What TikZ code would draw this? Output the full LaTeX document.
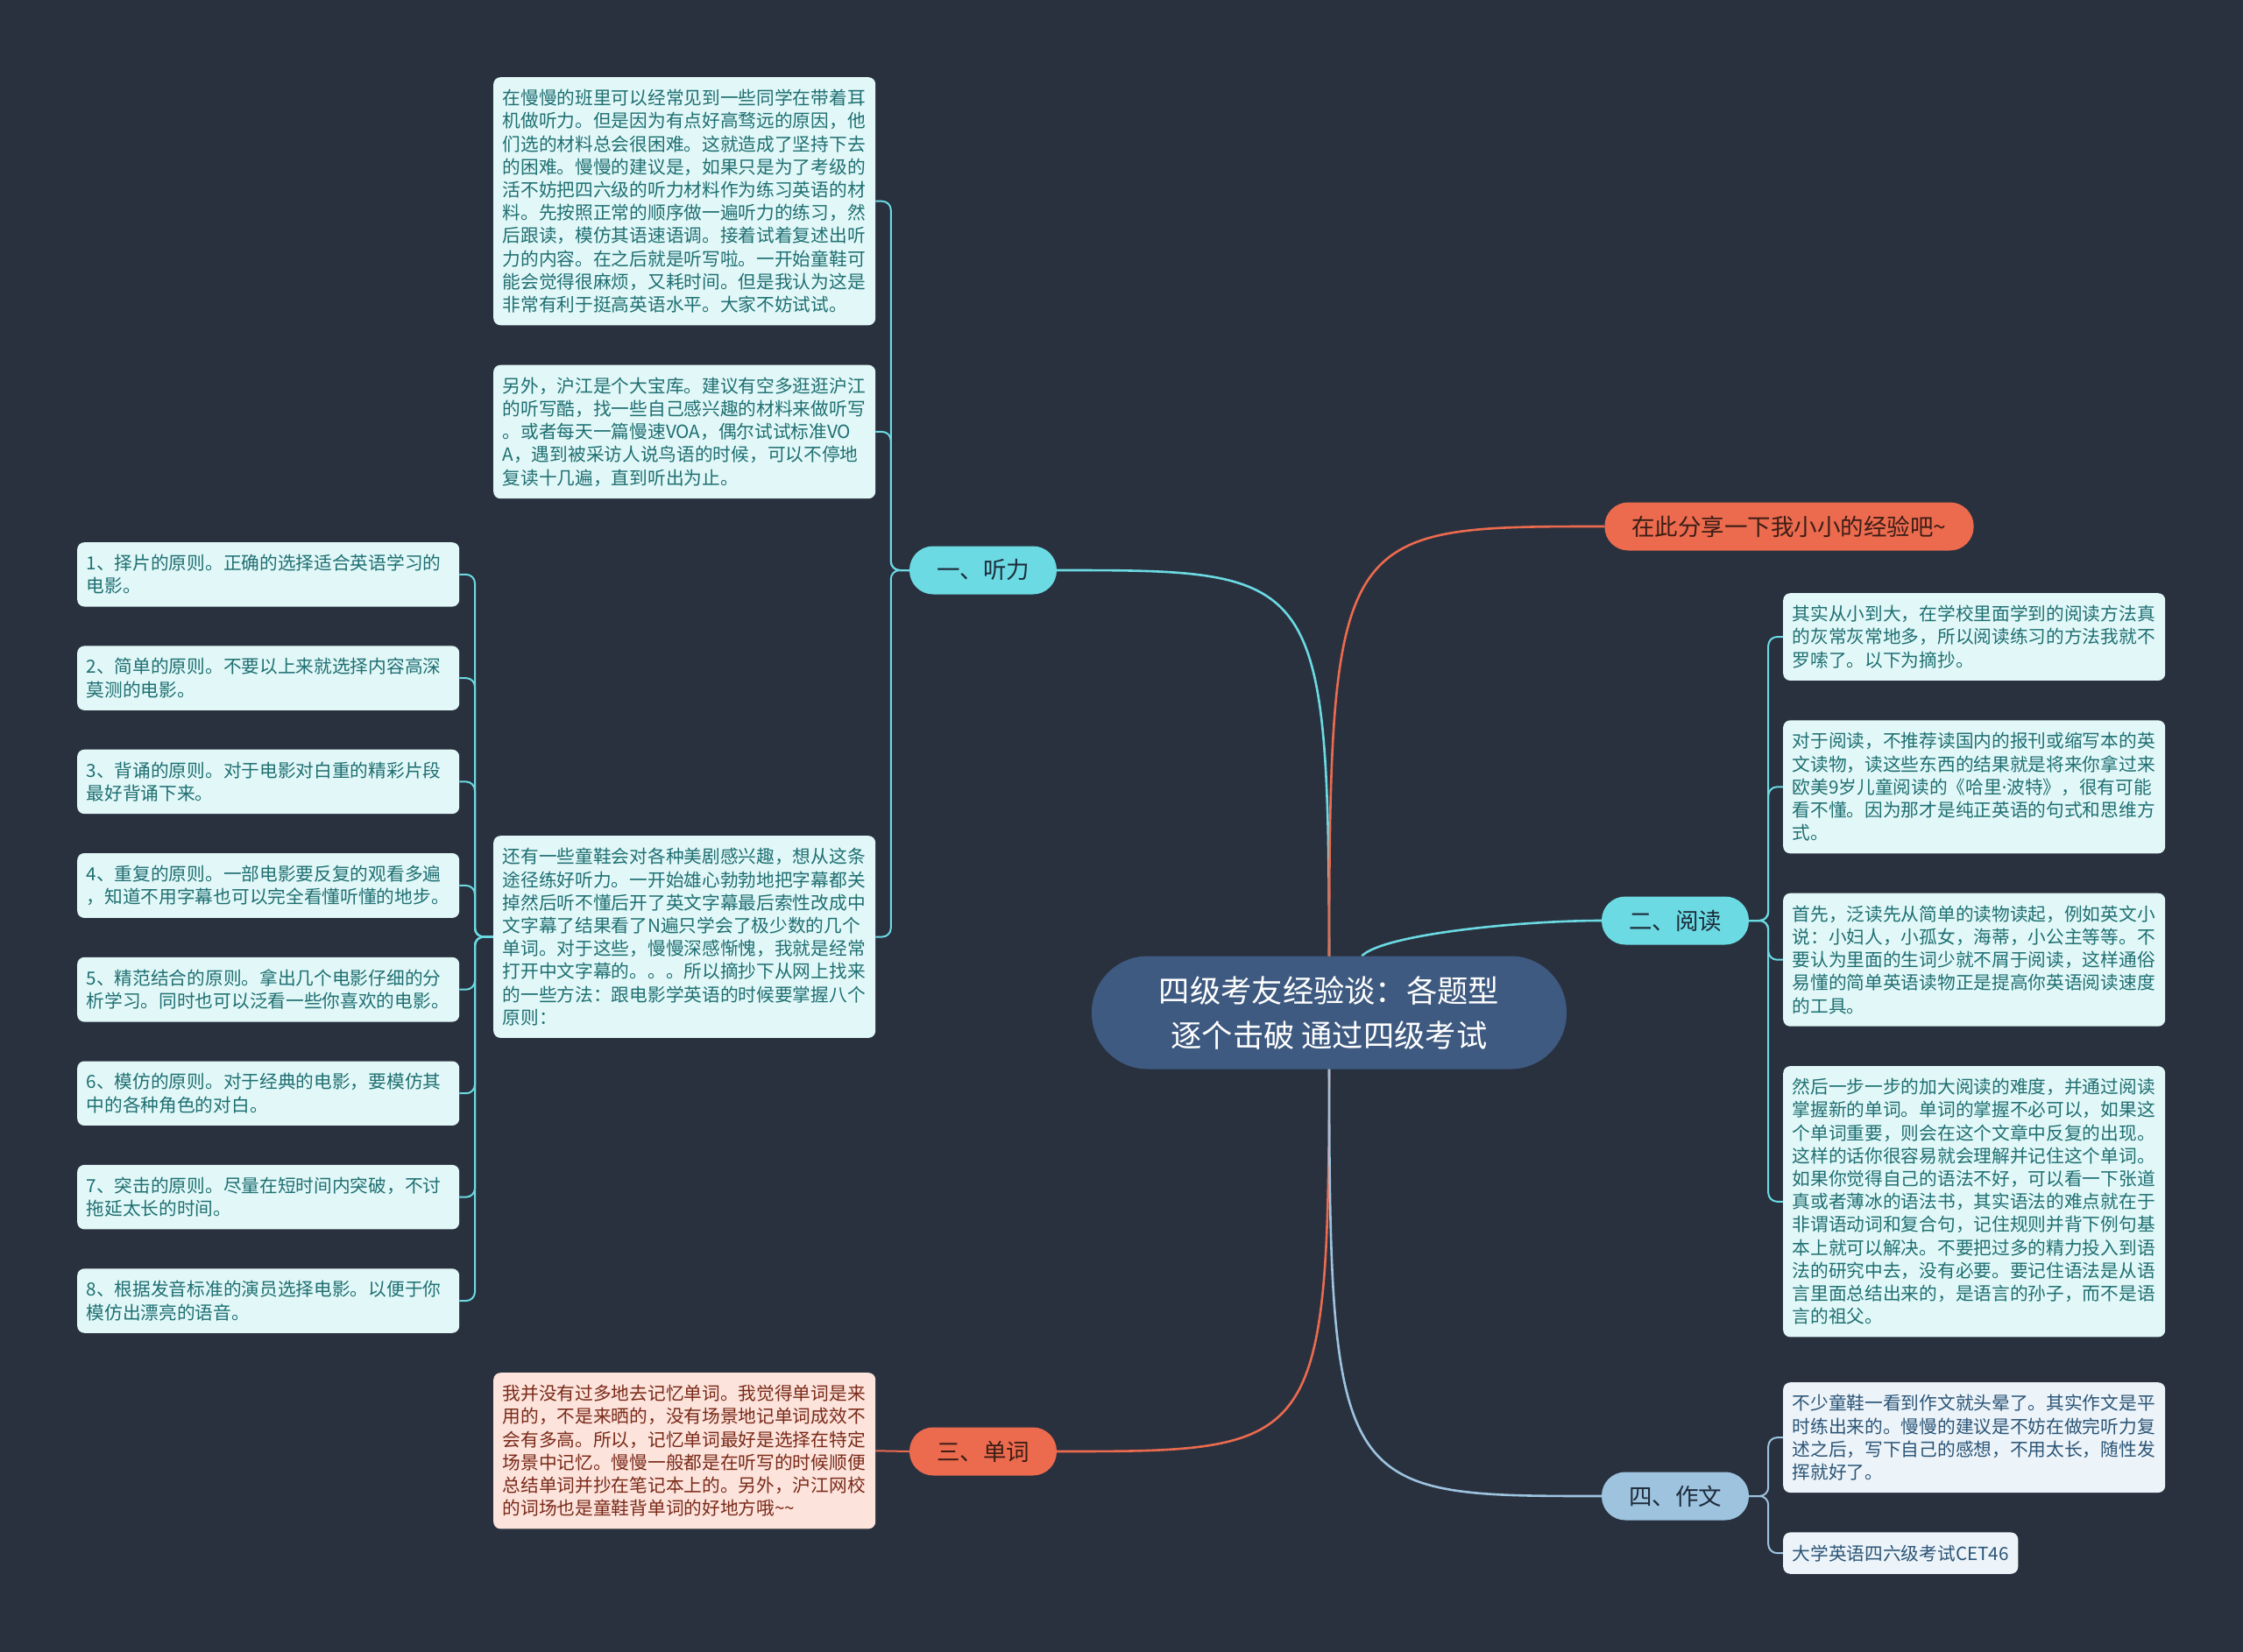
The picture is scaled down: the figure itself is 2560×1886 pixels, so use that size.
\documentclass[tikz,border=0pt]{standalone}
\usepackage{fontspec}
\setmainfont{Noto Sans CJK SC}
\newfontfamily\dotfont{Noto Sans}
\usetikzlibrary{positioning}
\definecolor{bgdark}{HTML}{29313F}
\definecolor{rootblue}{HTML}{3E5A80}
\definecolor{brcyan}{HTML}{6BDAE2}
\definecolor{brorange}{HTML}{EC6A4E}
\definecolor{brblue}{HTML}{9DC3DF}
\definecolor{darkink}{HTML}{1E2B3A}
\definecolor{brownink}{HTML}{3B1E16}
\definecolor{leafcyan}{HTML}{E2F8F8}
\definecolor{inkcyan}{HTML}{1F6F72}
\definecolor{leafpink}{HTML}{FCE3DC}
\definecolor{inkpink}{HTML}{7A2A18}
\definecolor{leafblue}{HTML}{ECF3F9}
\definecolor{inkblue}{HTML}{2B5576}
\pgfdeclarelayer{bg}
\pgfdeclarelayer{edges}
\pgfsetlayers{bg,edges,main}

\begin{document}
\begin{tikzpicture}[
  x=1pt, y=-1pt,
  rootbox/.style={fill=rootblue, text=white, rounded corners=64pt, minimum width=542pt, minimum height=129pt, align=center, font=\fontsize{35.3pt}{51pt}\selectfont},
  branchbox/.style={rounded corners=27pt, minimum height=55pt, inner xsep=31pt, font=\fontsize{26.5pt}{30pt}\selectfont},
  leaf/.style={rounded corners=8pt, inner xsep=10.5pt, inner ysep=14pt, align=left, font=\fontsize{20.7pt}{26.2pt}\selectfont},
  para/.style={leaf, text width=415pt},
  cyanfill/.style={fill=leafcyan, text=inkcyan},
  pinkfill/.style={fill=leafpink, text=inkpink},
  bluefill/.style={fill=leafblue, text=inkblue},
  mainline/.style={line width=2.6pt},
  subline/.style={line width=2pt, rounded corners=10pt},
]
  \begin{pgfonlayer}{bg}
    \fill[bgdark] (0,0) rectangle (2560,1886);
  \end{pgfonlayer}

  \node[rootbox] (root) at (1517,1156) {四级考友经验谈：各题型\\逐个击破 通过四级考试};
  \node[branchbox, fill=brcyan, text=darkink] (tingli) at (1122,651) {一、听力};
  \node[branchbox, fill=brorange, text=brownink] (share) at (2042,601) {在此分享一下我小小的经验吧\textasciitilde};
  \node[branchbox, fill=brcyan, text=darkink] (yuedu) at (1912,1051) {二、阅读};
  \node[branchbox, fill=brorange, text=brownink] (danci) at (1122,1657) {三、单词};
  \node[branchbox, fill=brblue, text=darkink] (zuowen) at (1912,1708) {四、作文};

  \node[para, cyanfill, anchor=north west] (l1) at (563,88) {在慢慢的班里可以经常见到一些同学在带着耳\\机做听力。但是因为有点好高骛远的原因，他\\们选的材料总会很困难。这就造成了坚持下去\\的困难。慢慢的建议是，如果只是为了考级的\\活不妨把四六级的听力材料作为练习英语的材\\料。先按照正常的顺序做一遍听力的练习，然\\后跟读，模仿其语速语调。接着试着复述出听\\力的内容。在之后就是听写啦。一开始童鞋可\\能会觉得很麻烦，又耗时间。但是我认为这是\\非常有利于挺高英语水平。大家不妨试试。};
  \node[para, cyanfill, below=45pt of l1] (l2) {另外，沪江是个大宝库。建议有空多逛逛沪江\\的听写酷，找一些自己感兴趣的材料来做听写\\。或者每天一篇慢速VOA，偶尔试试标准VO\\A，遇到被采访人说鸟语的时候，可以不停地\\复读十几遍，直到听出为止。};
  \node[para, cyanfill, anchor=north west] (l3) at (563,954) {还有一些童鞋会对各种美剧感兴趣，想从这条\\途径练好听力。一开始雄心勃勃地把字幕都关\\掉然后听不懂后开了英文字幕最后索性改成中\\文字幕了结果看了N遍只学会了极少数的几个\\单词。对于这些，慢慢深感惭愧，我就是经常\\打开中文字幕的。。。所以摘抄下从网上找来\\的一些方法：跟电影学英语的时候要掌握八个\\原则：};

  \node[para, cyanfill, anchor=north west] (p1) at (88,619) {1、择片的原则。正确的选择适合英语学习的\\电影。};
  \node[para, cyanfill, below=44.5pt of p1] (p2) {2、简单的原则。不要以上来就选择内容高深\\莫测的电影。};
  \node[para, cyanfill, below=44.5pt of p2] (p3) {3、背诵的原则。对于电影对白重的精彩片段\\最好背诵下来。};
  \node[para, cyanfill, below=44.5pt of p3] (p4) {4、重复的原则。一部电影要反复的观看多遍\\，知道不用字幕也可以完全看懂听懂的地步。};
  \node[para, cyanfill, below=44.5pt of p4] (p5) {5、精范结合的原则。拿出几个电影仔细的分\\析学习。同时也可以泛看一些你喜欢的电影。};
  \node[para, cyanfill, below=44.5pt of p5] (p6) {6、模仿的原则。对于经典的电影，要模仿其\\中的各种角色的对白。};
  \node[para, cyanfill, below=44.5pt of p6] (p7) {7、突击的原则。尽量在短时间内突破，不讨\\拖延太长的时间。};
  \node[para, cyanfill, below=44.5pt of p7] (p8) {8、根据发音标准的演员选择电影。以便于你\\模仿出漂亮的语音。};

  \node[para, pinkfill, anchor=north west] (word) at (563,1567) {我并没有过多地去记忆单词。我觉得单词是来\\用的，不是来晒的，没有场景地记单词成效不\\会有多高。所以，记忆单词最好是选择在特定\\场景中记忆。慢慢一般都是在听写的时候顺便\\总结单词并抄在笔记本上的。另外，沪江网校\\的词场也是童鞋背单词的好地方哦\textasciitilde\textasciitilde};

  \node[para, cyanfill, anchor=north west] (r1) at (2035,677) {其实从小到大，在学校里面学到的阅读方法真\\的灰常灰常地多，所以阅读练习的方法我就不\\罗嗦了。以下为摘抄。};
  \node[para, cyanfill, below=45pt of r1] (r2) {对于阅读，不推荐读国内的报刊或缩写本的英\\文读物，读这些东西的结果就是将来你拿过来\\欧美9岁儿童阅读的《哈里{\dotfont ·}波特》，很有可能\\看不懂。因为那才是纯正英语的句式和思维方\\式。};
  \node[para, cyanfill, below=45pt of r2] (r3) {首先，泛读先从简单的读物读起，例如英文小\\说：小妇人，小孤女，海蒂，小公主等等。不\\要认为里面的生词少就不屑于阅读，这样通俗\\易懂的简单英语读物正是提高你英语阅读速度\\的工具。};
  \node[para, cyanfill, below=45pt of r3] (r4) {然后一步一步的加大阅读的难度，并通过阅读\\掌握新的单词。单词的掌握不必可以，如果这\\个单词重要，则会在这个文章中反复的出现。\\这样的话你很容易就会理解并记住这个单词。\\如果你觉得自己的语法不好，可以看一下张道\\真或者薄冰的语法书，其实语法的难点就在于\\非谓语动词和复合句，记住规则并背下例句基\\本上就可以解决。不要把过多的精力投入到语\\法的研究中去，没有必要。要记住语法是从语\\言里面总结出来的，是语言的孙子，而不是语\\言的祖父。};

  \node[para, bluefill, anchor=north west] (w1) at (2035,1578) {不少童鞋一看到作文就头晕了。其实作文是平\\时练出来的。慢慢的建议是不妨在做完听力复\\述之后，写下自己的感想，不用太长，随性发\\挥就好了。};
  \node[leaf, bluefill, below=45pt of w1.south west, anchor=north west] (w2) {大学英语四六级考试CET46};

  \begin{pgfonlayer}{edges}
    \draw[mainline, brcyan] (root.center) .. controls (root.center |- tingli.east) .. (tingli.east);
    \draw[mainline, brorange] (root.center) .. controls (root.center |- share.west) .. (share.west);
    \draw[mainline, brcyan] (root.60) .. controls +(25,-25) and +(-90,0) .. (yuedu.west);
    \draw[mainline, brorange] (root.center) .. controls (root.center |- danci.east) .. (danci.east);
    \draw[mainline, brblue] (root.center) .. controls (root.center |- zuowen.west) .. (zuowen.west);

    \draw[subline, brcyan] (tingli.west) -- ++(-21,0) |- (l1.east);
    \draw[subline, brcyan] (tingli.west) -- ++(-21,0) |- (l2.east);
    \draw[subline, brcyan] (tingli.west) -- ++(-21,0) |- (l3.east);
    \draw[subline, brcyan] (l3.west) -- ++(-21,0) |- (p1.east);
    \draw[subline, brcyan] (l3.west) -- ++(-21,0) |- (p2.east);
    \draw[subline, brcyan] (l3.west) -- ++(-21,0) |- (p3.east);
    \draw[subline, brcyan] (l3.west) -- ++(-21,0) |- (p4.east);
    \draw[subline, brcyan] (l3.west) -- ++(-21,0) |- (p5.east);
    \draw[subline, brcyan] (l3.west) -- ++(-21,0) |- (p6.east);
    \draw[subline, brcyan] (l3.west) -- ++(-21,0) |- (p7.east);
    \draw[subline, brcyan] (l3.west) -- ++(-21,0) |- (p8.east);
    \draw[subline, brorange] (danci.west) -- (word.east);
    \draw[subline, brcyan] (yuedu.east) -- ++(22,0) |- (r1.west);
    \draw[subline, brcyan] (yuedu.east) -- ++(22,0) |- (r2.west);
    \draw[subline, brcyan] (yuedu.east) -- ++(22,0) |- (r3.west);
    \draw[subline, brcyan] (yuedu.east) -- ++(22,0) |- (r4.west);
    \draw[subline, brblue] (zuowen.east) -- ++(22,0) |- (w1.west);
    \draw[subline, brblue] (zuowen.east) -- ++(22,0) |- (w2.west);
  \end{pgfonlayer}
\end{tikzpicture}
\end{document}
